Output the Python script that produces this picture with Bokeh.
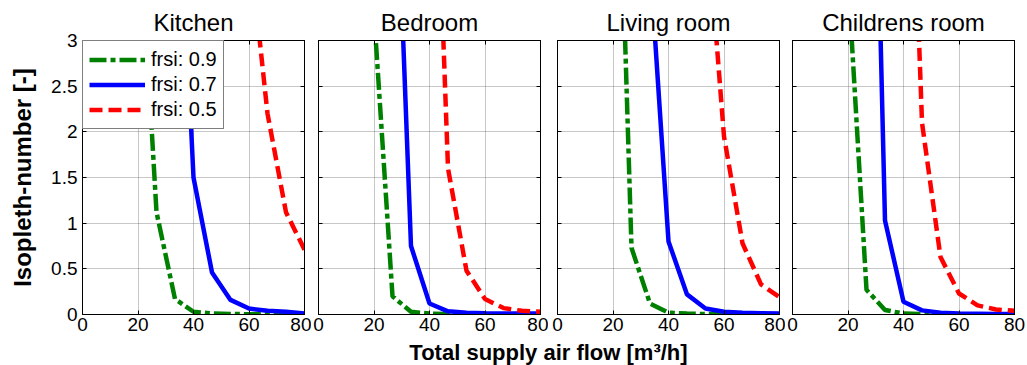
import math
from bokeh.plotting import figure
from bokeh.models import LinearAxis, Range1d, FixedTicker, CustomLabelingPolicy
from bokeh.layouts import row, column
from bokeh.embed import file_html
from bokeh.resources import INLINE
from bokeh.core.properties import value

NaN = float("nan")

ROOMS = ["Kitchen", "Bedroom", "Living room", "Childrens room"]
SERIES = ["frsi: 0.9", "frsi: 0.7", "frsi: 0.5"]
FLOW = [20, 26.67, 33.33, 40, 46.67, 53.33, 60, 66.67, 73.33, 80]

# Isopleth-number per room and frsi (values above 3 fall outside the visible range)
kitchen_09 = [4.6, 1.12, 0.17, 0.03, 0.012, 0.006, 0.003, 0.002, 0.001, 0.001]
kitchen_07 = [NaN, NaN, 5.7, 1.5, 0.46, 0.16, 0.065, 0.04, 0.03, 0.012]
kitchen_05 = [NaN, NaN, NaN, NaN, NaN, NaN, 4.1, 2.2, 1.12, 0.71]

bedroom_09 = [3.3, 0.2, 0.03, 0.01, 0.005, 0.003, 0.002, 0.001, 0.001, 0.001]
bedroom_07 = [NaN, 6.1, 0.75, 0.12, 0.035, 0.02, 0.015, 0.012, 0.01, 0.01]
bedroom_05 = [NaN, NaN, NaN, 7.2, 1.6, 0.48, 0.17, 0.07, 0.04, 0.03]

living_09 = [7.3, 0.73, 0.12, 0.02, 0.01, 0.005, 0.003, 0.002, 0.001, 0.001]
living_07 = [NaN, NaN, 3.86, 0.8, 0.22, 0.065, 0.03, 0.02, 0.015, 0.01]
living_05 = [NaN, NaN, NaN, NaN, NaN, 4.54, 1.95, 0.78, 0.33, 0.19]

children_09 = [3.7, 0.27, 0.05, 0.01, 0.005, 0.003, 0.002, 0.001, 0.001, 0.001]
children_07 = [NaN, 9.4, 1.03, 0.14, 0.045, 0.02, 0.01, 0.008, 0.006, 0.005]
children_05 = [NaN, NaN, NaN, 7.7, 2.1, 0.63, 0.23, 0.1, 0.055, 0.04]

DATA = [
    [kitchen_09, kitchen_07, kitchen_05],
    [bedroom_09, bedroom_07, bedroom_05],
    [living_09, living_07, living_05],
    [children_09, children_07, children_05],
]

X_TICKS = [0, 20, 40, 60, 80]
Y_TICKS = [0, 0.5, 1, 1.5, 2, 2.5, 3]
X_LABEL = "Total supply air flow [m³/h]"
Y_LABEL = "Isopleth-number [-]"

COLORS = ["#008000", "#0000ff", "#ff0000"]
DASHES = ["17 4 5 4", "solid", "13 6"]

FONT = "Liberation Sans"
BORDER_L = [82, 7, 9, 7]
BORDER_R = [7, 8, 6, 13]
FRAME_W = 222
FRAME_H = 274
TOP = 40
BOTTOM = 25
LABEL_H = 365 - (TOP + FRAME_H + BOTTOM)


def no_labels():
    return CustomLabelingPolicy(code="return new Set()")


figs = []
for i, room in enumerate(ROOMS):
    p = figure(width=BORDER_L[i] + FRAME_W + BORDER_R[i], height=TOP + FRAME_H + BOTTOM,
               x_range=Range1d(0, 80), y_range=Range1d(0, 3),
               output_backend="svg", toolbar_location=None,
               min_border_left=BORDER_L[i], min_border_right=BORDER_R[i],
               min_border_top=TOP, min_border_bottom=BOTTOM, title=room)
    p.title.text_font = FONT
    p.title.text_font_size = "24px"
    p.title.text_font_style = "normal"
    p.title.align = "center"
    p.title.standoff = 2
    p.title.text_color = "black"

    p.add_layout(LinearAxis(), "right")
    p.add_layout(LinearAxis(), "above")

    for ax in p.xaxis:
        ax.ticker = FixedTicker(ticks=X_TICKS)
    for ax in p.yaxis:
        ax.ticker = FixedTicker(ticks=Y_TICKS)
    for ax in list(p.xaxis) + list(p.yaxis):
        ax.major_tick_in = 4
        ax.major_tick_out = 0
        ax.minor_tick_in = 0
        ax.minor_tick_out = 0
        ax.axis_line_color = "black"
        ax.major_tick_line_color = "black"
        ax.major_label_text_font = FONT
        ax.major_label_text_font_size = "19px"
        ax.major_label_text_color = "black"
    p.below[0].major_label_standoff = 3
    hidden = [p.right[0], p.above[0]]
    p.left[0].major_label_standoff = 5
    if i == 0:
        p.left[0].axis_label = Y_LABEL
        p.left[0].axis_label_text_font = FONT
        p.left[0].axis_label_text_font_size = "24px"
        p.left[0].axis_label_text_font_style = "bold"
        p.left[0].axis_label_text_color = "black"
        p.left[0].axis_label_standoff = 12
    else:
        hidden.append(p.left[0])
    for ax in hidden:
        ax.major_label_policy = no_labels()
        ax.major_label_text_font_size = "1px"
        ax.major_label_standoff = 0

    p.outline_line_color = "black"
    p.outline_line_width = 1
    for g in (p.xgrid, p.ygrid):
        g.grid_line_color = "#606060"
        g.grid_line_alpha = 0.7
        g.grid_line_dash = "1 1"
        g.grid_line_width = 1
    p.xgrid.ticker = FixedTicker(ticks=X_TICKS)
    p.ygrid.ticker = FixedTicker(ticks=Y_TICKS)

    for j, name in enumerate(SERIES):
        kw = dict(line_color=COLORS[j], line_width=4.5, line_dash=DASHES[j])
        if i == 0:
            kw["legend_label"] = name
        p.line(FLOW, DATA[i][j], **kw)

    if i == 0:
        lg = p.legend[0]
        lg.location = "top_left"
        lg.margin = 0
        lg.padding = 6
        lg.spacing = 0
        lg.glyph_width = 56
        lg.glyph_height = 25
        lg.label_standoff = 6
        lg.label_text_font = FONT
        lg.label_text_font_size = "20px"
        lg.label_text_color = "black"
        lg.border_line_color = "black"
        lg.border_line_width = 1.5
        lg.background_fill_color = "white"
        lg.background_fill_alpha = 1
    figs.append(p)

# strip holding the shared x-axis title
lab = figure(width=1027, height=LABEL_H, x_range=Range1d(0, 1027), y_range=Range1d(0, LABEL_H),
             output_backend="svg", toolbar_location=None, title=None,
             x_axis_location=None, y_axis_location=None,
             min_border=0, min_border_left=0, min_border_right=0,
             min_border_top=0, min_border_bottom=0)
lab.grid.visible = False
lab.outline_line_color = None
lab.text(x=[548], y=[13], text=[X_LABEL], text_align="center", text_baseline="middle",
         text_font=value(FONT), text_font_size="22px", text_font_style="bold", text_color="black")

layout = column(row(*figs, spacing=0), lab, spacing=0)
open("out.html", "w").write(file_html(layout, INLINE))
